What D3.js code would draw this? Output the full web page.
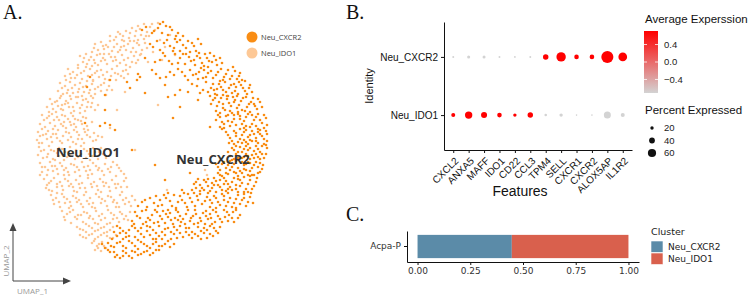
<!DOCTYPE html>
<html lang="en">
<head>
<meta charset="UTF-8">
<title>Neutrophil clusters</title>
<script src="https://cdn.jsdelivr.net/npm/d3@7"></script>
<style>
  body { margin: 0; background: #fff; }
  svg { display: block; }
</style>
</head>
<body>
<div id="chart-space"></div>
<script>
// ---- panel A: UMAP embedding ----
var clusterNames = ["Neu_CXCR2", "Neu_IDO1"];

var ido1Points = [
  [-30,106],[-24,109],[-18,112],[-12,114],[-6,116],[0,113],[-3,108],[-9,105],[-15,104],[-21,102],[-27,104],[-34,103],[5,110],[-1,104],[8,117],[-14,109],[-36,100],[-26,99],[-16,99],[-6,101],
  [-55,96],[-49,98],[-44,95],[-40,99],[-33,96],[-29,93],[-22,96],[-17,92],[-11,95],[-5,97],[-52,90],[-46,91],[-38,89],[-32,88],[-24,90],[-14,88],[-8,90],[-58,88],[-42,93],[-20,99],
  [-70,84],[-64,86],[-59,83],[-53,85],[-47,82],[-41,86],[-35,83],[-28,85],[-22,82],[-16,84],[-12,80],[-67,78],[-61,80],[-55,77],[-49,79],[-43,76],[-37,79],[-30,77],[-24,75],[-18,78],[-72,75],[-58,74],[-33,74],[-10,85],
  [-82,71],[-77,68],[-72,72],[-66,69],[-60,71],[-55,67],[-49,70],[-43,68],[-38,71],[-32,66],[-27,69],[-85,64],[-79,62],[-73,65],[-68,61],[-62,64],[-57,60],[-51,63],[-45,61],[-39,64],[-34,60],[-26,62],[-22,66],[-64,73],
  [-90,57],[-85,54],[-80,58],[-75,55],[-70,57],[-64,54],[-58,56],[-52,53],[-46,57],[-41,54],[-92,49],[-87,46],[-82,50],[-77,47],[-71,51],[-66,48],[-60,50],[-55,46],[-49,49],[-44,45],[-38,50],[-68,44],[-80,44],[-57,59],
  [-100,41],[-95,38],[-90,42],[-84,39],[-79,41],[-73,37],[-67,40],[-62,38],[-57,42],[-103,33],[-97,31],[-92,34],[-87,30],[-81,33],[-76,29],[-70,32],[-65,29],[-59,33],[-94,28],[-85,36],[-72,43],[-55,30],
  [-108,25],[-103,22],[-98,26],[-93,23],[-88,25],[-82,21],[-77,24],[-72,20],[-67,23],[-110,16],[-105,13],[-100,17],[-95,14],[-89,16],[-84,12],[-79,15],[-74,13],[-68,16],[-63,14],[-96,20],[-86,18],[-70,27],
  [-112,8],[-107,5],[-102,9],[-97,6],[-92,10],[-87,4],[-81,7],[-76,10],[-71,5],[-65,8],[-60,3],[-113,0],[-108,-3],[-103,1],[-98,-2],[-93,2],[-88,-3],[-82,0],[-77,-2],[-72,1],[-66,-3],[-57,-1],[-52,4],[-62,10],
  [-111,-7],[-106,-10],[-101,-6],[-96,-11],[-91,-8],[-85,-12],[-80,-7],[-74,-10],[-69,-6],[-63,-11],[-57,-8],[-51,-12],[-112,-15],[-107,-18],[-102,-14],[-97,-19],[-91,-16],[-86,-20],[-80,-15],[-75,-19],[-69,-14],[-64,-18],[-58,-16],[-52,-19],[-47,-14],
  [-110,-23],[-105,-27],[-100,-22],[-95,-26],[-90,-23],[-84,-28],[-79,-24],[-73,-27],[-68,-22],[-62,-26],[-57,-23],[-51,-28],[-45,-24],[-39,-27],[-33,-25],[-108,-32],[-103,-35],[-97,-31],[-92,-34],[-86,-30],[-81,-35],[-75,-32],[-70,-36],[-64,-31],[-58,-34],[-52,-30],[-46,-35],[-40,-32],[-34,-36],[-29,-31],
  [-106,-39],[-101,-43],[-96,-38],[-90,-42],[-85,-39],[-79,-44],[-74,-40],[-68,-43],[-62,-38],[-56,-42],[-50,-39],[-44,-43],[-38,-40],[-32,-44],[-26,-41],[-104,-48],[-98,-51],[-93,-47],[-87,-50],[-81,-46],[-76,-51],[-70,-48],[-64,-52],[-58,-47],[-52,-50],[-46,-46],[-40,-51],[-34,-48],[-28,-52],[-23,-47],
  [-99,-55],[-94,-58],[-88,-54],[-83,-59],[-77,-56],[-71,-60],[-66,-55],[-60,-58],[-54,-54],[-48,-59],[-42,-56],[-36,-60],[-30,-55],[-24,-58],[-18,-56],[-96,-64],[-90,-67],[-85,-63],[-79,-66],[-73,-62],[-67,-67],[-61,-64],[-55,-68],[-49,-63],[-43,-66],[-37,-62],[-31,-67],[-25,-64],[-19,-66],
  [-88,-71],[-83,-74],[-77,-70],[-72,-75],[-66,-72],[-60,-76],[-54,-71],[-48,-74],[-42,-70],[-36,-75],[-30,-72],[-24,-76],[-85,-80],[-79,-83],[-73,-79],[-67,-82],[-61,-78],[-55,-83],[-49,-80],[-43,-84],[-37,-79],[-31,-82],[-26,-79],[-20,-72],
  [-73,-87],[-67,-90],[-61,-86],[-55,-91],[-49,-88],[-43,-92],[-37,-87],[-70,-95],[-64,-98],[-58,-94],[-52,-97],[-46,-93],[-40,-98],[-34,-95],
  [-58,-103],[-53,-106],[-48,-102],[-44,-108],[-55,-110],[-49,-111],
  [10,100],[15,93],[3,88],[20,105],[-2,78],[25,85],[12,80],
  [-40,12],[-33,30],[-25,48],[17,-50],[57,-35],[55,-30],[-15,-10],[8,35],
  [-20,107],[-10,111],[-32,108],[2,116],[-28,100],[-4,104],[-40,104],[-12,100],
  [-47,94],[-36,93],[-26,94],[-13,97],[-3,92],[-50,86],[-30,90],[-19,88],[-56,92],[-9,86],
  [-66,82],[-56,80],[-45,80],[-39,83],[-26,80],[-14,77],[-52,75],[-63,76],[-34,80],[-20,73],[-46,86],
  [-80,66],[-75,62],[-69,67],[-58,65],[-53,69],[-47,65],[-41,60],[-35,67],[-29,64],[-24,70],[-63,59],[-84,60],
  [-88,52],[-83,47],[-78,52],[-72,48],[-67,53],[-61,47],[-55,51],[-49,55],[-43,50],[-89,44],[-74,43],[-59,44],
  [-98,36],[-93,39],[-88,35],[-82,37],[-77,33],[-68,35],[-63,33],[-58,37],[-101,28],[-89,31],[-79,27],[-64,41],[-52,35],
  [-106,20],[-101,24],[-91,20],[-85,24],[-80,18],[-75,21],[-69,19],[-64,22],[-108,11],[-97,11],[-87,14],[-76,16],[-66,11],[-58,18],
  [-110,4],[-104,6],[-99,3],[-94,6],[-84,8],[-79,3],[-73,8],[-68,1],[-63,5],[-56,7],[-111,-3],[-90,-1],[-74,-4],[-54,0],[-48,3],
  [-109,-11],[-103,-17],[-99,-10],[-93,-13],[-88,-9],[-83,-17],[-77,-12],[-72,-17],[-66,-9],[-61,-14],[-55,-12],[-49,-8],[-44,-18],[-95,-20],[-60,-20],
  [-108,-27],[-102,-30],[-98,-26],[-93,-29],[-88,-26],[-82,-32],[-76,-25],[-71,-30],[-66,-27],[-60,-30],[-54,-26],[-48,-31],[-42,-29],[-37,-22],[-31,-28],[-26,-34],[-110,-35],[-86,-35],[-62,-35],
  [-103,-45],[-99,-41],[-93,-44],[-88,-46],[-82,-41],[-77,-47],[-71,-44],[-65,-48],[-59,-44],[-53,-46],[-47,-42],[-41,-47],[-35,-44],[-29,-47],[-24,-38],[-101,-50],[-73,-52],[-49,-52],
  [-97,-60],[-91,-62],[-86,-57],[-80,-62],[-74,-58],[-69,-64],[-63,-61],[-57,-63],[-51,-57],[-45,-61],[-39,-57],[-33,-63],[-27,-60],[-21,-62],[-15,-60],[-93,-53],[-58,-67],[-34,-67],
  [-86,-77],[-80,-72],[-75,-77],[-69,-75],[-63,-73],[-57,-79],[-51,-76],[-45,-78],[-39,-73],[-33,-78],[-28,-74],[-22,-80],[-81,-68],[-52,-84],[-64,-84],[-40,-83],
  [-70,-89],[-64,-92],[-58,-88],[-52,-90],[-46,-87],[-40,-90],[-67,-97],[-61,-95],[-55,-99],[-49,-95],[-43,-96],[-37,-98],
  [-56,-101],[-51,-104],[-46,-106],[-52,-108]
];

var cxcr2Points = [
  [13,118],[8,112],[16,114],[22,110],[28,107],[33,104],[2,107],[18,105],[25,101],[-8,110],
  [0,96],[7,99],[14,97],[20,94],[27,98],[33,95],[38,99],[44,94],[30,89],[40,88],[10,90],[48,101],[23,89],
  [-5,82],[5,78],[15,84],[22,76],[30,82],[36,86],[41,79],[47,84],[52,77],[57,82],[62,78],[67,75],[70,82],[45,75],[55,86],[35,76],[60,87],[25,86],
  [-12,66],[2,70],[10,62],[20,68],[28,71],[35,64],[40,70],[46,66],[51,72],[56,63],[61,69],[66,65],[71,71],[76,66],[80,61],[85,69],[89,64],[92,60],[48,61],[73,60],[58,73],[83,73],
  [-20,52],[-5,47],[15,55],[30,50],[42,56],[50,47],[56,58],[61,52],[65,46],[69,56],[73,50],[77,44],[81,55],[85,49],[89,58],[93,52],[97,46],[100,55],[60,44],[75,58],[87,44],[95,59],[67,51],[82,47],
  [63,40],[67,34],[71,42],[75,30],[79,37],[83,43],[87,32],[91,39],[95,29],[99,36],[103,42],[107,31],[110,38],[66,29],[78,44],[88,28],[96,43],[104,36],[73,36],[84,38],
  [68,25],[72,18],[76,24],[80,14],[84,21],[88,26],[92,16],[96,23],[100,13],[104,20],[108,26],[112,17],[116,22],[70,13],[82,27],[94,12],[106,14],[114,12],[78,19],[90,21],[102,25],[74,12],
  [76,8],[80,2],[84,9],[88,-2],[92,5],[96,10],[100,0],[104,6],[108,-3],[112,4],[116,9],[117,-1],[86,4],[98,-4],[110,10],[79,-3],[94,0],[106,2],[90,11],[102,-1],[114,-4],
  [82,-8],[86,-14],[90,-7],[94,-17],[98,-10],[102,-15],[106,-6],[110,-12],[114,-18],[117,-8],[84,-19],[92,-12],[100,-19],[108,-17],[112,-6],[96,-6],[88,-18],[104,-11],[116,-14],[78,-12],
  [66,-24],[70,-30],[74,-22],[78,-34],[82,-27],[86,-21],[90,-31],[94,-25],[98,-35],[102,-28],[106,-22],[110,-32],[113,-25],[72,-36],[80,-21],[88,-36],[96,-30],[104,-35],[108,-27],[76,-28],[84,-32],[92,-22],[100,-23],[68,-33],
  [44,-44],[48,-39],[52,-48],[56,-42],[60,-51],[64,-38],[68,-45],[72,-50],[76,-41],[80,-47],[84,-38],[88,-52],[92,-43],[96,-49],[100,-40],[104,-46],[107,-38],[50,-51],[58,-46],[66,-52],[74,-38],[82,-50],[90,-40],[98,-52],[62,-43],[86,-45],[78,-44],[70,-40],[94,-37],[46,-48],
  [-8,-62],[0,-58],[8,-66],[14,-55],[20,-61],[26,-68],[30,-56],[35,-63],[40,-58],[45,-66],[50,-54],[55,-61],[60,-67],[64,-56],[68,-62],[72,-54],[76,-66],[80,-58],[84,-63],[88,-55],[92,-60],[96,-66],[100,-57],[103,-63],[-3,-67],[18,-53],[38,-54],[58,-53],[78,-53],[48,-60],[66,-68],[86,-68],[28,-62],[10,-60],[74,-60],[94,-54],
  [-15,-72],[-10,-78],[-4,-70],[2,-75],[8,-82],[13,-71],[18,-77],[23,-84],[28,-72],[33,-79],[38,-70],[43,-76],[48,-83],[53,-73],[58,-79],[63,-70],[68,-76],[72,-82],[77,-72],[82,-78],[86,-70],[90,-75],[-18,-81],[-7,-84],[5,-70],[15,-83],[25,-78],[35,-84],[45,-70],[55,-84],[65,-82],[75,-77],[40,-81],[20,-73],[0,-80],[60,-74],[30,-76],[84,-82],[50,-78],[10,-76],
  [-30,-88],[-24,-93],[-18,-86],[-12,-91],[-6,-97],[0,-87],[6,-93],[12,-99],[18,-88],[24,-94],[30,-86],[36,-92],[42,-98],[48,-87],[54,-93],[60,-86],[66,-91],[70,-87],[-33,-96],[-27,-99],[-15,-97],[-3,-91],[9,-86],[15,-95],[21,-99],[27,-90],[33,-97],[39,-88],[45,-94],[51,-99],[57,-90],[63,-96],[-9,-88],[3,-99],[-21,-90],[-36,-92],
  [-42,-103],[-36,-107],[-30,-102],[-24,-108],[-18,-103],[-12,-109],[-6,-104],[0,-108],[6,-102],[12,-106],[18,-101],[-40,-112],[-33,-115],[-27,-111],[-21,-116],[-15,-112],[-9,-114],[-3,-111],[3,-113],[-45,-108],[-30,-118],[-18,-118],[24,-104],[9,-110],
  [-45,30],[-65,17],[-50,14],[-45,17],[-40,15],[-35,10],[-63,53],[-45,45],[-60,63],[-40,60],[-23,58],[-13,60],[-10,63],[30,33],[23,22],[60,13],[48,40],[18,43],[40,-33],[32,-50],[15,-40],[5,-25],[-18,-10],
  [10,116],[20,113],[4,109],[26,104],[12,107],[30,100],[-4,113],
  [3,93],[17,100],[24,92],[36,92],[42,97],[46,89],[13,87],[51,96],
  [10,80],[19,79],[28,77],[39,83],[44,80],[50,82],[54,74],[59,79],[64,84],[66,80],[72,77],[49,87],[33,86],
  [6,66],[16,63],[24,65],[32,68],[38,60],[43,65],[49,68],[53,62],[58,67],[63,62],[68,68],[74,63],[78,70],[82,64],[87,61],[90,67],[70,59],[54,70],
  [25,45],[38,48],[47,54],[53,50],[58,48],[63,56],[67,45],[71,53],[76,48],[79,52],[84,56],[88,46],[91,55],[95,49],[99,52],[102,48],[64,50],[86,53],[73,45],
  [61,36],[65,42],[69,38],[73,32],[77,41],[81,34],[85,40],[89,35],[93,42],[97,33],[101,38],[105,34],[108,41],[112,33],[70,27],[80,29],[100,28],[92,30],
  [66,20],[70,23],[74,16],[78,25],[82,18],[86,15],[90,24],[94,19],[98,26],[102,16],[106,23],[110,20],[114,25],[117,15],[84,25],[96,14],[72,11],[108,11],
  [78,5],[82,-1],[86,7],[90,1],[94,8],[98,3],[102,9],[106,-1],[110,6],[114,1],[117,6],[84,-4],[96,-2],[108,8],[92,-3],[100,5],
  [80,-16],[84,-10],[88,-12],[92,-18],[96,-14],[100,-8],[104,-18],[108,-9],[112,-14],[116,-5],[86,-6],[98,-16],[110,-19],[94,-9],[106,-14],[82,-20],
  [68,-27],[72,-24],[76,-33],[80,-30],[84,-24],[88,-28],[92,-33],[96,-24],[100,-31],[104,-25],[108,-33],[112,-29],[70,-35],[78,-25],[86,-33],[94,-29],[102,-35],[98,-22],[110,-23],
  [46,-42],[50,-45],[54,-50],[58,-39],[62,-48],[66,-41],[70,-47],[74,-44],[78,-49],[82,-42],[86,-49],[90,-46],[94,-52],[98,-44],[102,-49],[106,-42],[54,-40],[76,-51],[88,-39],[100,-36],[64,-45],[42,-50],
  [-5,-60],[4,-63],[12,-65],[16,-58],[22,-66],[24,-55],[32,-60],[37,-67],[42,-62],[47,-56],[52,-64],[57,-57],[62,-63],[66,-58],[70,-65],[74,-56],[78,-62],[82,-67],[86,-59],[90,-64],[94,-58],[98,-62],[101,-53],[6,-56],[34,-53],[60,-60],[-12,-66],[44,-53],
  [-13,-76],[-8,-71],[-2,-78],[4,-83],[7,-72],[12,-79],[16,-74],[21,-80],[26,-70],[31,-82],[36,-74],[41,-78],[46,-74],[51,-81],[56,-71],[61,-78],[66,-72],[70,-79],[74,-70],[79,-75],[83,-72],[88,-78],[-16,-84],[-4,-82],[28,-80],[56,-76],[78,-81],[18,-70],[44,-84],[62,-84],
  [-33,-86],[-27,-91],[-21,-96],[-15,-88],[-9,-94],[-3,-86],[3,-90],[9,-96],[15,-89],[21,-92],[27,-98],[30,-93],[36,-88],[42,-92],[48,-96],[54,-88],[60,-94],[64,-88],[68,-93],[-38,-99],[-24,-97],[-12,-100],[0,-95],[12,-92],[24,-87],[39,-95],[51,-91],[57,-98],[6,-99],[-30,-93],
  [-39,-106],[-33,-103],[-27,-106],[-21,-101],[-15,-106],[-9,-102],[-3,-106],[3,-104],[9,-106],[15,-104],[-42,-110],[-36,-112],[-24,-113],[-18,-111],[-12,-115],[-6,-112],[0,-115],[6,-110],[20,-107],[-27,-116],[-35,-117],[-48,-104]
];

// ---- panel B: dot plot ----
var features = ["CXCL2", "ANXA5", "MAFF", "IDO1", "CD22", "CCL3", "TPM4", "SELL", "CXCR1", "CXCR2", "ALOX5AP", "IL1R2"];
var identities = ["Neu_CXCR2", "Neu_IDO1"];
var avgExpCXCR2 = [-0.71, -0.71, -0.71, -0.71, -0.71, -0.71, 0.71, 0.71, 0.71, 0.71, 0.71, 0.71];
var avgExpIDO1  = [0.71, 0.71, 0.71, 0.71, 0.71, 0.71, -0.71, -0.71, -0.71, -0.71, -0.71, -0.71];
var pctCXCR2 = [8, 17, 17, 8, 7, 8, 37, 70, 30, 30, 92, 64];
var pctIDO1  = [25, 53, 42, 30, 20, 37, 13, 20, 5, 5, 50, 25];
var colorBreaks = [0.4, 0.0, -0.4];
var sizeBreaks = [20, 40, 60];

// ---- panel C: cluster fractions ----
var samples = ["Acpa-P"];
var fracCXCR2 = [0.447];
var fracIDO1 = [0.553];
var fracTicks = [0, 0.25, 0.5, 0.75, 1];

var width = 753, height = 298;
var serif = "'Liberation Serif', 'DejaVu Serif', serif";
var sans = "'Liberation Sans', Arial, sans-serif";

var svg = d3.select("#chart-space").append("svg")
    .attr("width", width)
    .attr("height", height);

// panel letters
[["A.", 3, 19], ["B.", 346, 19], ["C.", 346, 221]].forEach(function(l) {
    svg.append("text").attr("x", l[1]).attr("y", l[2]).text(l[0])
        .style("font-family", serif).style("font-size", "20px").attr("fill", "#111");
});

// =========== A ===========
var umapX = d3.scaleLinear().domain([-120, 120]).range([30, 270]);
var umapY = d3.scaleLinear().domain([-120, 120]).range([260, 20]);
var clusterColor = d3.scaleOrdinal().domain(clusterNames).range(["#F98D14", "#FDC896"]);
var pointR = 1.3;

var gA = svg.append("g");
gA.append("g").selectAll("circle")
    .data(ido1Points)
    .join("circle")
    .attr("cx", function(d) { return umapX(d[0]); })
    .attr("cy", function(d) { return umapY(d[1]); })
    .attr("r", pointR)
    .attr("fill", clusterColor("Neu_IDO1"));

gA.append("g").selectAll("circle")
    .data(cxcr2Points)
    .join("circle")
    .attr("cx", function(d) { return umapX(d[0]); })
    .attr("cy", function(d) { return umapY(d[1]); })
    .attr("r", pointR)
    .attr("fill", clusterColor("Neu_CXCR2"));

// cluster labels
gA.append("text").attr("x", umapX(-62)).attr("y", umapY(-17)).text("Neu_IDO1")
    .attr("text-anchor", "middle")
    .style("font-family", "'Open Sans', sans-serif").style("font-weight", "bold").style("font-size", "13px")
    .attr("fill", "#333");
gA.append("text").attr("x", umapX(63)).attr("y", umapY(-24)).text("Neu_CXCR2")
    .attr("text-anchor", "middle")
    .style("font-family", "'Open Sans', sans-serif").style("font-weight", "bold").style("font-size", "13px")
    .attr("fill", "#333");

// legend
var legA = gA.append("g").attr("transform", "translate(252,37)");
clusterNames.forEach(function(name, i) {
    legA.append("circle").attr("cx", 0).attr("cy", i * 16).attr("r", 5.5).attr("fill", clusterColor(name));
    legA.append("text").attr("x", 9).attr("y", i * 16).attr("dy", "0.35em").text(name)
        .style("font-family", "'Open Sans', sans-serif").style("font-size", "7.5px").attr("fill", "#444");
});

// UMAP arrows
var arrowColor = "#444";
gA.append("path").attr("d", "M13,281V228M13,281H66").attr("stroke", arrowColor).attr("stroke-width", 1).attr("fill", "none");
gA.append("path").attr("d", "M13,223L9.5,231L16.5,231Z").attr("fill", arrowColor);
gA.append("path").attr("d", "M71,281L63,277.5L63,284.5Z").attr("fill", arrowColor);
gA.append("text").attr("transform", "translate(9,261) rotate(-90)").attr("text-anchor", "middle").text("UMAP_2")
    .style("font-family", "'Open Sans', sans-serif").style("font-size", "8px").attr("fill", "#999");
gA.append("text").attr("x", 17).attr("y", 294).text("UMAP_1")
    .style("font-family", "'Open Sans', sans-serif").style("font-size", "8px").attr("fill", "#999");

// =========== B ===========
var featX = d3.scalePoint().domain(features).range([444, 632]).padding(0.6);
var identY = d3.scalePoint().domain(identities).range([22, 150]).padding(0.6);
var sizeScale = d3.scaleLinear().domain([0, 100]).range([0.5, 6.5]);
var expColor = d3.scaleLinear().domain([-0.71, 0.71]).range(["#D3D3D3", "#FF0000"]);

var dots = [];
features.forEach(function(f, i) {
    dots.push({ id: "Neu_CXCR2", feature: f, exp: avgExpCXCR2[i], pct: pctCXCR2[i] });
    dots.push({ id: "Neu_IDO1", feature: f, exp: avgExpIDO1[i], pct: pctIDO1[i] });
});

var gB = svg.append("g");
gB.append("g").selectAll("circle")
    .data(dots)
    .join("circle")
    .attr("cx", function(d) { return featX(d.feature); })
    .attr("cy", function(d) { return identY(d.id); })
    .attr("r", function(d) { return sizeScale(d.pct); })
    .attr("fill", function(d) { return expColor(d.exp); });

var xAxisB = gB.append("g")
    .attr("transform", "translate(0,150)")
    .call(d3.axisBottom(featX).tickSize(3).tickSizeOuter(0));
xAxisB.selectAll("text")
    .attr("x", 0).attr("y", 0).attr("dy", "0.35em")
    .attr("transform", "translate(3,9) rotate(-45)")
    .style("text-anchor", "end");

var yAxisB = gB.append("g")
    .attr("transform", "translate(444,0)")
    .call(d3.axisLeft(identY).tickSize(3).tickSizeOuter(0));

[xAxisB, yAxisB].forEach(function(ax) {
    ax.selectAll("text").style("font-family", sans).style("font-size", "10px").attr("fill", "#111");
    ax.select(".domain").attr("stroke", "#111");
    ax.selectAll(".tick line").attr("stroke", "#111");
});

gB.append("text").attr("x", 520).attr("y", 196).attr("text-anchor", "middle").text("Features")
    .style("font-family", sans).style("font-size", "14px").attr("fill", "#111");
gB.append("text").attr("transform", "translate(373,86) rotate(-90)").attr("text-anchor", "middle").text("Identity")
    .style("font-family", sans).style("font-size", "11px").attr("fill", "#111");

// colour legend
var grad = svg.append("defs").append("linearGradient").attr("id", "expGrad")
    .attr("x1", 0).attr("y1", 1).attr("x2", 0).attr("y2", 0);
grad.append("stop").attr("offset", "0%").attr("stop-color", expColor(-0.71));
grad.append("stop").attr("offset", "100%").attr("stop-color", expColor(0.71));

var barY = d3.scaleLinear().domain([-0.71, 0.71]).range([93, 31]);
gB.append("text").attr("x", 645).attr("y", 23).text("Average Experssion")
    .style("font-family", sans).style("font-size", "11.5px").attr("fill", "#111");
gB.append("rect").attr("x", 644).attr("y", barY(0.71)).attr("width", 14)
    .attr("height", barY(-0.71) - barY(0.71)).attr("fill", "url(#expGrad)");
gB.append("g").selectAll("line").data(colorBreaks).join("line")
    .attr("x1", 644).attr("x2", 647).attr("y1", barY).attr("y2", barY)
    .attr("stroke", "#fff").attr("stroke-width", 0.8);
gB.append("g").selectAll("line").data(colorBreaks).join("line")
    .attr("x1", 655).attr("x2", 658).attr("y1", barY).attr("y2", barY)
    .attr("stroke", "#fff").attr("stroke-width", 0.8);
gB.append("g").selectAll("text").data(colorBreaks).join("text")
    .attr("x", 664).attr("y", barY).attr("dy", "0.35em")
    .text(function(d) { return d3.format(".1f")(d); })
    .style("font-family", sans).style("font-size", "9.5px").attr("fill", "#222");

// size legend
gB.append("text").attr("x", 645).attr("y", 114).text("Percent Expressed")
    .style("font-family", sans).style("font-size", "11.5px").attr("fill", "#111");
gB.append("g").selectAll("circle").data(sizeBreaks).join("circle")
    .attr("cx", 652).attr("cy", function(d, i) { return 128 + i * 12.5; })
    .attr("r", sizeScale).attr("fill", "#111");
gB.append("g").selectAll("text").data(sizeBreaks).join("text")
    .attr("x", 664).attr("y", function(d, i) { return 128 + i * 12.5; }).attr("dy", "0.35em")
    .text(function(d) { return d; })
    .style("font-family", sans).style("font-size", "9.5px").attr("fill", "#222");

// =========== C ===========
var fracX = d3.scaleLinear().domain([-0.05, 1.05]).range([407, 639]);
var sampleY = d3.scaleBand().domain(samples).range([231, 262]).paddingInner(0).paddingOuter(1 / 6);
var fillC = d3.scaleOrdinal().domain(clusterNames).range(["#5B8BA8", "#D9604D"]);

var fracRows = samples.map(function(s, i) {
    return { sample: s, Neu_CXCR2: fracCXCR2[i], Neu_IDO1: fracIDO1[i] };
});
var stacked = d3.stack().keys(clusterNames)(fracRows);

var gC = svg.append("g");
gC.selectAll("g.layer")
    .data(stacked)
    .join("g")
    .attr("class", "layer")
    .attr("fill", function(d) { return fillC(d.key); })
    .selectAll("rect")
    .data(function(d) { return d; })
    .join("rect")
    .attr("x", function(d) { return fracX(d[0]); })
    .attr("width", function(d) { return fracX(d[1]) - fracX(d[0]); })
    .attr("y", function(d) { return sampleY(d.data.sample); })
    .attr("height", sampleY.bandwidth());

var xAxisC = gC.append("g")
    .attr("transform", "translate(0,262)")
    .call(d3.axisBottom(fracX).tickValues(fracTicks).tickFormat(d3.format(".2f")).tickSize(3).tickSizeOuter(0));
var yAxisC = gC.append("g")
    .attr("transform", "translate(407,0)")
    .call(d3.axisLeft(sampleY).tickSize(3).tickSizeOuter(0));
[xAxisC, yAxisC].forEach(function(ax) {
    ax.selectAll("text").style("font-family", "'DejaVu Sans', sans-serif").style("font-size", "9px").attr("fill", "#333");
    ax.select(".domain").attr("stroke", "#111");
    ax.selectAll(".tick line").attr("stroke", "#111");
});

var legC = gC.append("g").attr("transform", "translate(651,0)");
legC.append("text").attr("x", 0).attr("y", 235).text("Cluster")
    .style("font-family", "'DejaVu Sans', sans-serif").style("font-size", "9.5px").attr("fill", "#222");
clusterNames.forEach(function(name, i) {
    legC.append("rect").attr("x", 0).attr("y", 241 + i * 12).attr("width", 12).attr("height", 11.5)
        .attr("fill", fillC(name)).attr("stroke", "#fff").attr("stroke-width", 0.6);
    legC.append("text").attr("x", 17).attr("y", 247 + i * 12).attr("dy", "0.35em").text(name)
        .style("font-family", "'DejaVu Sans', sans-serif").style("font-size", "9px").attr("fill", "#222");
});
</script>
</body>
</html>
